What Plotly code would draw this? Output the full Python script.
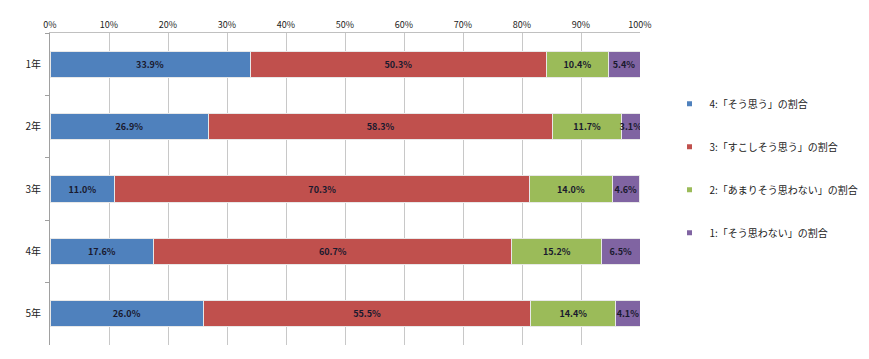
import plotly.graph_objects as go

grades = ["1年", "2年", "3年", "4年", "5年"]
series_names = [
    "4:「そう思う」の割合",
    "3:「すこしそう思う」の割合",
    "2:「あまりそう思わない」の割合",
    "1:「そう思わない」の割合",
]
v4 = [33.9, 26.9, 11.0, 17.6, 26.0]
v3 = [50.3, 58.3, 70.3, 60.7, 55.5]
v2 = [10.4, 11.7, 14.0, 15.2, 14.4]
v1 = [5.4, 3.1, 4.6, 6.5, 4.1]
colors = ["#4F81BD", "#C0504D", "#9BBB59", "#8064A2"]
x_ticks = [0, 10, 20, 30, 40, 50, 60, 70, 80, 90, 100]
x_tick_text = [f"{t}%" for t in x_ticks]

FONT = "Noto Sans CJK JP"
fig = go.Figure()
for i, (name, vals) in enumerate(zip(series_names, [v4, v3, v2, v1])):
    fig.add_trace(go.Bar(
        y=grades, x=vals, name=name, orientation="h",
        marker=dict(color=colors[i], line=dict(color="#E8E8E8", width=1)),
        texttemplate="<b>%{x:.1f}%</b>", textposition="inside", insidetextanchor="middle",
        textangle=0,
        textfont=dict(color="#1a1a2e", size=9, family=FONT),
        showlegend=False,
    ))
# legend entries with small square markers
for i, name in enumerate(series_names):
    fig.add_trace(go.Scatter(
        x=[None], y=[None], mode="markers", name=name,
        marker=dict(symbol="square", size=5, color=colors[i]),
        legendgroup=str(i), showlegend=True,
    ))

fig.update_layout(
    width=869, height=359,
    barmode="stack", bargap=0.58,
    margin=dict(l=42, r=237, t=25, b=22, autoexpand=False),
    plot_bgcolor="white", paper_bgcolor="white",
    font=dict(family=FONT, size=10, color="#222"),
    uniformtext=dict(minsize=9, mode="show"),
    legend=dict(x=1.05, y=0.82, xanchor="left", yanchor="top",
                traceorder="grouped", tracegroupgap=24,
                font=dict(size=10, family=FONT), itemwidth=30),
    showlegend=True,
)
fig.update_xaxes(
    side="top", range=[0, 100], tickvals=x_ticks, ticktext=x_tick_text,
    showgrid=True, gridcolor="#C8C8C8", gridwidth=1,
    showline=True, linecolor="#C0C0C0", ticks="",
    tickfont=dict(size=9, family=FONT), zeroline=False, automargin=False,
)
fig.update_yaxes(
    autorange="reversed", showgrid=False, tickson="boundaries",
    ticks="outside", ticklen=4, tickcolor="#A0A0A0",
    showline=True, linecolor="#A0A0A0", automargin=False,
    tickfont=dict(size=10, family=FONT), ticklabelstandoff=6,
)

fig.write_html("out.html")
